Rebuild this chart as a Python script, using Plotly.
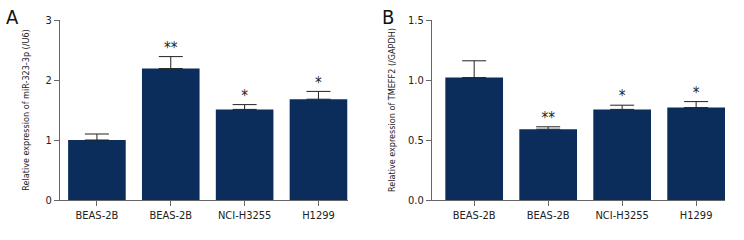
import plotly.graph_objects as go

categories = ["BEAS-2B", "BEAS-2B", "NCI-H3255", "H1299"]
mir_values = [1.00, 2.19, 1.51, 1.68]
mir_errors = [0.10, 0.20, 0.08, 0.13]
mir_stars = ["", "**", "*", "*"]
tmeff_values = [1.02, 0.59, 0.755, 0.77]
tmeff_errors = [0.14, 0.02, 0.035, 0.05]
tmeff_stars = ["", "**", "*", "*"]

BAR = "#0b2d5b"
AX = "#666666"
FONT = "DejaVu Sans Condensed, Liberation Sans Narrow, sans-serif"
W, H = 744, 240
xpos = list(range(len(categories)))

def px(p):
    return p / W

def py(p):
    return 1 - p / H

fig = go.Figure()

def add_panel(vals, errs, stars, xa, ya):
    fig.add_trace(go.Bar(
        x=xpos, y=vals, width=0.78, marker=dict(color=BAR, line=dict(width=0)),
        error_y=dict(type="data", array=errs, arrayminus=[0] * len(errs), symmetric=False,
                     color="#222222", thickness=1, width=12),
        xaxis=xa, yaxis=ya, showlegend=False, hoverinfo="skip"))
    fig.add_trace(go.Scatter(
        x=xpos, y=[v + e for v, e in zip(vals, errs)], mode="text", text=stars,
        textposition="top center", textfont=dict(size=15, color="#222222", family=FONT),
        xaxis=xa, yaxis=ya, showlegend=False, hoverinfo="skip"))

add_panel(mir_values, mir_errors, mir_stars, "x", "y")
add_panel(tmeff_values, tmeff_errors, tmeff_stars, "x2", "y2")

xcommon = dict(tickmode="array", tickvals=xpos, ticktext=categories, showline=True,
               linecolor=AX, linewidth=1, ticks="outside", ticklen=5, tickcolor=AX,
               showgrid=False, zeroline=False, automargin=False,
               tickfont=dict(size=11, color="#222222", family=FONT))
ycommon = dict(showline=True, linecolor=AX, linewidth=1, ticks="outside", ticklen=5,
               tickcolor=AX, showgrid=False, zeroline=False, automargin=False,
               tickfont=dict(size=11, color="#222222", family=FONT))

ydom = [py(200), py(20)]

fig.update_layout(
    width=W, height=H, margin=dict(l=0, r=0, t=0, b=0),
    paper_bgcolor="white", plot_bgcolor="white",
    font=dict(family=FONT),
    xaxis=dict(domain=[px(60), px(348)], range=[-0.5, 3.4], anchor="y", **xcommon),
    yaxis=dict(domain=ydom, range=[0, 3], tickvals=[0, 1, 2, 3], anchor="x",
               title=dict(text="Relative expression of miR-323-3p (/U6)",
                          font=dict(size=9, color="#222222", family=FONT), standoff=14),
               **ycommon),
    xaxis2=dict(domain=[px(432), px(725)], range=[-0.57, 3.39], anchor="y2", **xcommon),
    yaxis2=dict(domain=ydom, range=[0, 1.5], tickvals=[0, 0.5, 1.0, 1.5],
                tickformat=".1f", anchor="x2",
                title=dict(text="Relative expression of TMEFF2 (/GAPDH)",
                           font=dict(size=9, color="#222222", family=FONT), standoff=10),
                **ycommon),
    annotations=[
        dict(text="A", x=px(12), y=py(17), xref="paper", yref="paper",
             xanchor="center", yanchor="middle", showarrow=False,
             font=dict(size=20, color="#111111", family=FONT)),
        dict(text="B", x=px(388), y=py(17), xref="paper", yref="paper",
             xanchor="center", yanchor="middle", showarrow=False,
             font=dict(size=20, color="#111111", family=FONT)),
    ],
)

fig.write_html("out.html", config={"displayModeBar": False, "staticPlot": True},
               post_script="document.body.style.margin='0';")
